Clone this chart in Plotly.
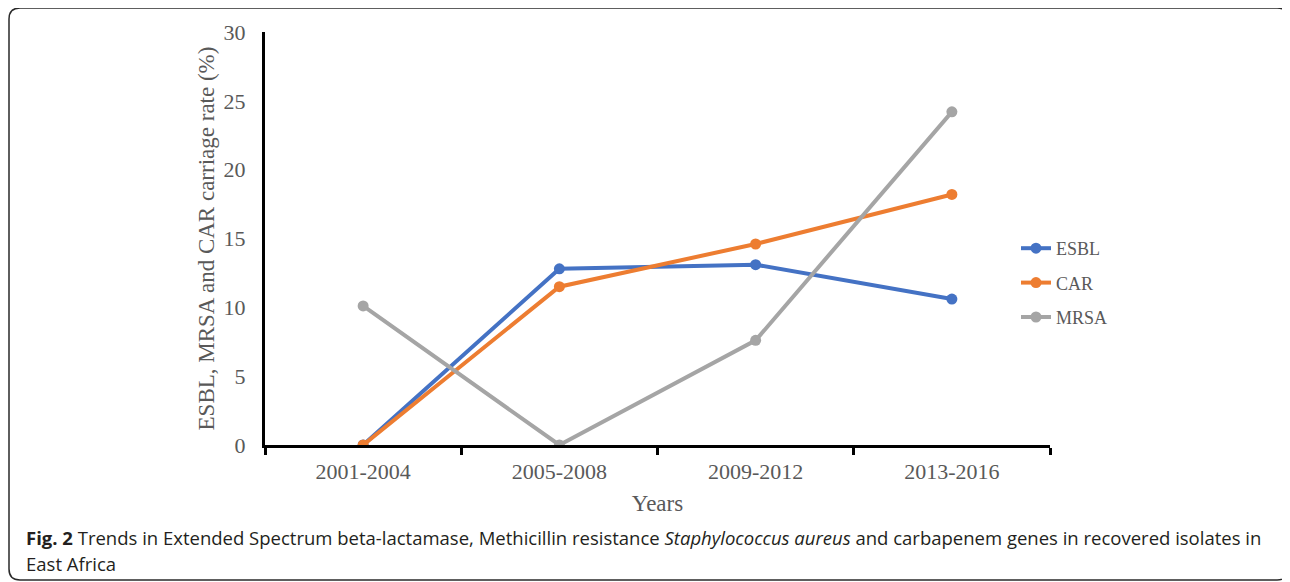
import plotly.graph_objects as go

categories = ["2001-2004", "2005-2008", "2009-2012", "2013-2016"]
esbl = [0, 12.8, 13.1, 10.6]
car = [0, 11.5, 14.6, 18.2]
mrsa = [10.1, 0, 7.6, 24.2]
y_ticks = [0, 5, 10, 15, 20, 25, 30]

# page body has an 8px margin; figure placed at (8, 8)
OFF = 8
W, H = 1282, 574
def px(x): return (x - OFF) / W
def py(y): return 1 - (y - OFF) / H

serif = "Liberation Serif, Times New Roman, serif"
gray = "#595959"

fig = go.Figure()
for name, vals, col in [("ESBL", esbl, "#4472C4"), ("CAR", car, "#ED7D31"), ("MRSA", mrsa, "#A5A5A5")]:
    fig.add_trace(go.Scatter(x=categories, y=vals, name=name, mode="lines+markers",
                             line=dict(color=col, width=4), marker=dict(color=col, size=11),
                             legendgroup=name))

fig.update_layout(
    width=W, height=H, margin=dict(l=0, r=0, t=0, b=0, autoexpand=False),
    paper_bgcolor="white", plot_bgcolor="white",
    showlegend=True,
    legend=dict(x=px(1016), y=py(230), xanchor="left", yanchor="top",
                font=dict(family=serif, size=18, color=gray),
                traceorder="grouped", tracegroupgap=8, itemwidth=30,
                bgcolor="rgba(0,0,0,0)"),
    xaxis=dict(domain=[px(265), px(1050)], type="category", range=[-0.5, 3.5], automargin=False,
               showline=True, linecolor="black", linewidth=3, showgrid=False,
               ticks="outside", tickson="boundaries", ticklen=7, tickwidth=3, tickcolor="black",
               tickfont=dict(family=serif, size=22, color=gray), ticklabelstandoff=5,
               title=dict(text="Years", font=dict(family=serif, size=23, color=gray), standoff=12),
               zeroline=False),
    yaxis=dict(domain=[py(445), py(32)], range=[0, 30], tickvals=y_ticks, automargin=False,
               showline=True, linecolor="black", linewidth=3, showgrid=False, zeroline=False,
               ticks="", tickfont=dict(family=serif, size=22, color=gray), ticklabelstandoff=12,
               title=dict(text="ESBL, MRSA and CAR carriage rate (%)",
                          font=dict(family=serif, size=23, color=gray), standoff=3)),
)

# Rounded frame
x0, x1, y0, y1 = px(9), px(1288), py(580), py(8)
rx, ry = 11 / W, 11 / H
path = (f"M {x0+rx},{y1} L {x1-rx},{y1} Q {x1},{y1} {x1},{y1-ry} "
        f"L {x1},{y0+ry} Q {x1},{y0} {x1-rx},{y0} L {x0+rx},{y0} Q {x0},{y0} {x0},{y0+ry} "
        f"L {x0},{y1-ry} Q {x0},{y1} {x0+rx},{y1} Z")
fig.add_shape(type="path", path=path, xref="paper", yref="paper",
              line=dict(color="#2a2a2a", width=1.5), fillcolor="rgba(0,0,0,0)")

cap_font = dict(family="Open Sans, Noto Sans, sans-serif", size=18.5, color="#231f20")
fig.add_annotation(x=px(24), y=py(537), xref="paper", yref="paper", xanchor="left", yanchor="middle",
                   showarrow=False, font=cap_font, align="left",
                   text="<b>Fig. 2</b> Trends in Extended Spectrum beta-lactamase, Methicillin resistance "
                        "<i>Staphylococcus aureus</i> and carbapenem genes in recovered isolates in")
fig.add_annotation(x=px(24), y=py(563), xref="paper", yref="paper", xanchor="left", yanchor="middle",
                   showarrow=False, font=cap_font, align="left", text="East Africa")

fig.write_html("out.html")
